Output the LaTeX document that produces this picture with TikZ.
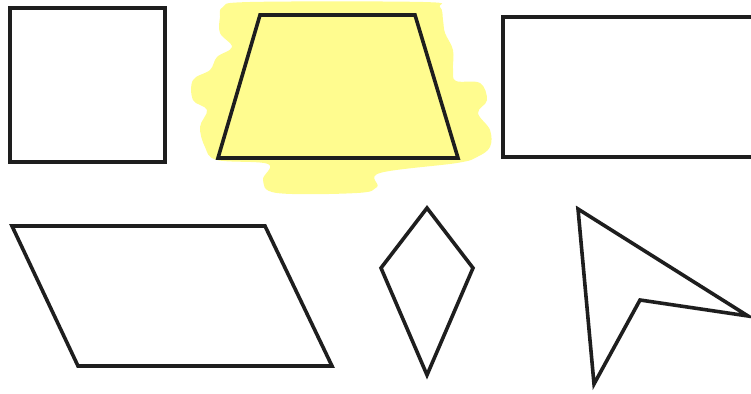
\documentclass[tikz,border=0pt]{standalone}
\definecolor{hl}{RGB}{255,252,143}
\definecolor{ink}{RGB}{30,30,30}
\begin{document}
\begin{tikzpicture}[x=1pt,y=-1pt,
  shapeline/.style={draw=ink,line width=3.6pt,line join=miter}]
\useasboundingbox (0,0) rectangle (751,393);
% highlight blob
\fill[hl] plot[smooth cycle,tension=0.6] coordinates {
 (223,7) (250,2) (423,2) (440,7) (443,20) (445,33) (453,50) (453,70)
 (456,81) (480,83) (487,100) (478,113) (490,130) (490,147) (477,157)
 (457,163) (380,173) (377,187) (357,193) (277,193) (263,180) (268,164)
 (217,160) (205,147) (200,127) (207,110) (193,100) (193,80) (210,70)
 (217,57) (232,47) (220,33) (220,17)};
% square
\draw[shapeline] (10,8) rectangle (165,162);
% trapezoid
\draw[shapeline] (260,15) -- (415,15) -- (458,158) -- (218,158) -- cycle;
% rectangle (cut at right edge)
\draw[shapeline] (503,17) rectangle (760,157);
% parallelogram
\draw[shapeline] (12,226) -- (265,226) -- (332,366) -- (78,366) -- cycle;
% kite
\draw[shapeline] (427,208) -- (473,268) -- (427,375) -- (381,268) -- cycle;
% arrow
\draw[shapeline] (578,209) -- (748,316) -- (640,300) -- (594,384) -- cycle;
\end{tikzpicture}
\end{document}
